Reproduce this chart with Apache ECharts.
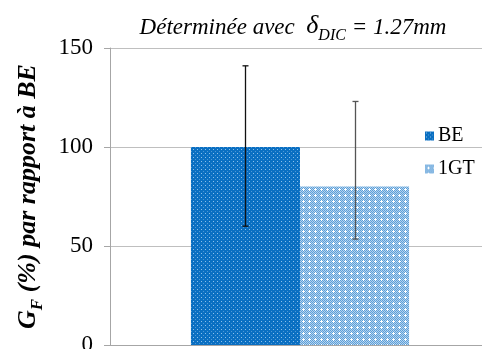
<!DOCTYPE html>
<html><head><meta charset="utf-8">
<script src="https://cdn.jsdelivr.net/npm/echarts@6/dist/echarts.min.js"></script>
<style>html,body{margin:0;padding:0;background:#fff;overflow:hidden;width:482px;height:349px}#c{width:490px;height:349px}</style>
</head><body><div id="c"></div>
<script>
const categories = [''];
const seriesNames = ['BE', '1GT'];
const beValues = [100];
const gtValues = [80];
const beErr = [[60, 141]];
const gtErr = [[53.5, 123]];
const yTicks = [0, 50, 100, 150];

const SERIF = "'Liberation Serif', 'Times New Roman', serif";

function pattern(size, bg, dots) {
  const c = document.createElement('canvas');
  c.width = size; c.height = size;
  const x = c.getContext('2d');
  x.fillStyle = bg; x.fillRect(0, 0, size, size);
  dots.forEach(d => { x.fillStyle = d[2]; x.fillRect(d[0], d[1], d[3] || 1, d[4] || 1); });
  return c;
}
const bePat = pattern(4, '#0a6fc2', [[1,1,'#8cc0ea'],[3,3,'#4d97d6']]);
const gtTile = (function(){
  const c = document.createElement('canvas'); c.width = 6; c.height = 6;
  const x = c.getContext('2d');
  for (let i = 0; i < 6; i++) for (let j = 0; j < 6; j++) {
    x.fillStyle = ((i + j) % 2 === 0) ? '#5d9fd8' : '#b3d3ef';
    x.fillRect(i, j, 1, 1);
  }
  x.fillStyle = '#ffffff';
  x.fillRect(3, 2, 1, 3); x.fillRect(2, 3, 3, 1);
  return c;
})();

const BW = 0.287;
function errSeries(data, side) {
  return {
    type: 'custom', z: 10, silent: true,
    data: data.map((d, i) => [i, d[0], d[1]]),
    renderItem: function (params, api) {
      const band = api.size([1, 0])[0];
      const c = api.coord([api.value(0), 0]);
      const x = Math.round(c[0] + side * band * BW / 2) + 0.5;
      const lo = api.coord([api.value(0), api.value(1)])[1];
      const hi = api.coord([api.value(0), api.value(2)])[1];
      const st = { stroke: side < 0 ? '#111' : '#555', lineWidth: 1.3 };
      return { type: 'group', children: [
        { type: 'line', shape: { x1: x, y1: lo, x2: x, y2: hi }, style: st },
        { type: 'line', shape: { x1: x - 3, y1: lo, x2: x + 3, y2: lo }, style: st },
        { type: 'line', shape: { x1: x - 3, y1: hi, x2: x + 3, y2: hi }, style: st }
      ]};
    }
  };
}

const chart = echarts.init(document.getElementById('c'), null, { renderer: 'canvas' });
chart.setOption({
  animation: false,
  title: {
    text: '{a|Déterminée avec  }{d|δ}{s|DIC}{a| = 1.27mm}',
    left: 288, top: 7, textAlign: 'center',
    textStyle: {
      fontFamily: SERIF, fontStyle: 'italic', fontWeight: 'normal', fontSize: 23, color: '#000',
      rich: {
        a: { fontFamily: SERIF, fontStyle: 'italic', fontWeight: 'normal', fontSize: 23, color: '#000', lineHeight: 27, verticalAlign: 'bottom' },
        d: { fontFamily: SERIF, fontStyle: 'italic', fontWeight: 'normal', fontSize: 26, color: '#000', lineHeight: 27, verticalAlign: 'bottom' },
        s: { fontFamily: SERIF, fontStyle: 'italic', fontWeight: 'normal', fontSize: 16, color: '#000', lineHeight: 14, verticalAlign: 'bottom', padding: [0,0,-5,0] }
      }
    }
  },
  legend: {
    orient: 'vertical', left: 420, top: 121, itemGap: 13,
    itemWidth: 9, itemHeight: 9, icon: 'rect', itemStyle: { borderWidth: 0 },
    data: seriesNames,
    textStyle: { fontFamily: SERIF, fontSize: 20, color: '#000', padding: [0,0,0,-1] }
  },
  grid: { left: 110, top: 48, right: 0, height: 297, outerBoundsMode: 'none', containLabel: false },
  xAxis: {
    type: 'category', data: categories,
    axisLine: { lineStyle: { color: '#a6a6a6', width: 1 } },
    axisTick: { show: false }, axisLabel: { show: false }
  },
  yAxis: {
    type: 'value', min: yTicks[0], max: yTicks[yTicks.length - 1], interval: 50,
    name: '{g|G}{f|F}{t| (%) par rapport à BE}',
    nameLocation: 'middle', nameGap: 69, nameRotate: 90,
    nameTextStyle: {
      fontFamily: SERIF, fontStyle: 'italic', fontWeight: 'bold', fontSize: 26, color: '#000',
      rich: {
        g: { fontFamily: SERIF, fontStyle: 'italic', fontWeight: 'bold', fontSize: 26, color: '#000', lineHeight: 30, verticalAlign: 'bottom' },
        f: { fontFamily: SERIF, fontStyle: 'italic', fontWeight: 'bold', fontSize: 17, color: '#000', lineHeight: 15, verticalAlign: 'bottom', padding: [0,0,-5,0] },
        t: { fontFamily: SERIF, fontStyle: 'italic', fontWeight: 'bold', fontSize: 26, color: '#000', lineHeight: 30, verticalAlign: 'bottom' }
      }
    },
    axisLine: { show: true, lineStyle: { color: '#a6a6a6', width: 1 } },
    axisTick: { show: true, length: 6, lineStyle: { color: '#a6a6a6' } },
    axisLabel: { fontFamily: SERIF, fontSize: 23, color: '#000', margin: 17 },
    splitLine: { lineStyle: { color: '#bfbfbf', width: 1 } }
  },
  series: [
    { name: seriesNames[0], type: 'bar', data: beValues, barWidth: (BW * 100) + '%', barGap: '0%',
      itemStyle: { color: { image: bePat, repeat: 'repeat' } } },
    { name: seriesNames[1], type: 'bar', data: gtValues, barWidth: (BW * 100) + '%', barGap: '0%',
      itemStyle: { color: { image: gtTile, repeat: 'repeat' } } },
    errSeries(beErr, -1),
    errSeries(gtErr, 1)
  ]
});
</script></body></html>
